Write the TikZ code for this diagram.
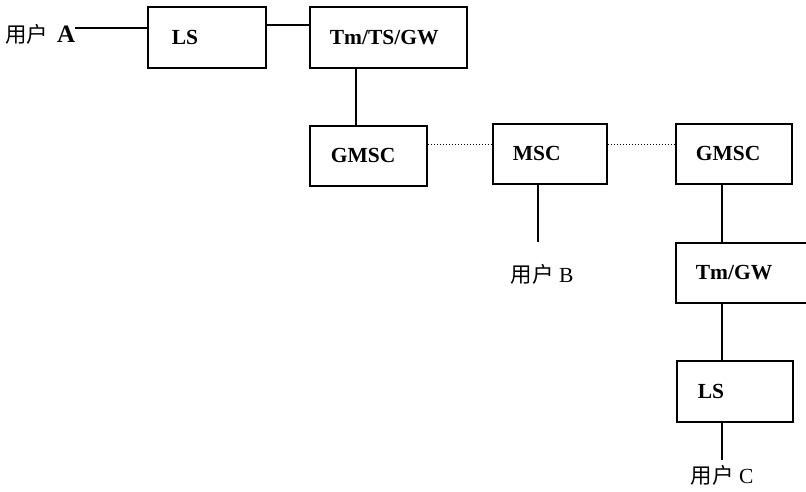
\documentclass[tikz,border=0pt]{standalone}
\usepackage{fontspec}
\setmainfont{Liberation Serif}
\newfontfamily\cjk{Noto Sans CJK SC}
\begin{document}
\begin{tikzpicture}[x=1pt,y=-1pt,
  box/.style={draw, line width=1.8pt, anchor=north west, inner sep=0pt,
    align=left, font=\bfseries\fontsize{21.5}{24}\selectfont},
  lbl/.style={inner sep=0pt, font=\fontsize{21.5}{24}\selectfont},
  conn/.style={line width=1.8pt},
  dotc/.style={line width=1pt, dotted}]
\useasboundingbox (0,0) rectangle (806,491);
\clip (0,0) rectangle (806,491);
% boxes
\node[box, minimum width=118, minimum height=61, text width=74] (ls1) at (147,6) {\hspace*{2pt}LS};
\node[box, minimum width=157, minimum height=61, text width=117] (tm1) at (309,6) {Tm/TS/GW};
\node[box, minimum width=117, minimum height=60, text width=75] (g1) at (309,125) {GMSC};
\node[box, minimum width=114, minimum height=60, text width=74] (msc) at (492,123) {MSC};
\node[box, minimum width=116, minimum height=60, text width=76] (g2) at (675,123) {GMSC};
\node[box, minimum width=140, minimum height=60, text width=100] (tm2) at (675,242) {Tm/GW};
\node[box, minimum width=116, minimum height=61, text width=74] (ls2) at (676,360) {LS};
% labels
\node[lbl, anchor=west] (ua) at (5,34) {{\cjk 用户}\hspace{9pt}{\bfseries\fontsize{25}{26}\selectfont A}};
\node[lbl] (ub) at (542,274) {{\cjk 用户} B};
\node[lbl] (uc) at (722,475) {{\cjk 用户} C};
% helper coordinates
\coordinate (ya) at (0,28);
\coordinate (yb) at (0,25);
\coordinate (xa) at (356,0);
\coordinate (yd) at (0,144);
\coordinate (xb) at (538,0);
\coordinate (xc) at (722,0);
\coordinate (bB) at (538,242);
\coordinate (bC) at (722,460);
% connectors
\draw[conn] (ua.east |- ya) -- (ls1.west |- ya);
\draw[conn] (ls1.east |- yb) -- (tm1.west |- yb);
\draw[conn] (tm1.south -| xa) -- (g1.north -| xa);
\draw[dotc] (g1.east |- yd) -- (msc.west |- yd);
\draw[dotc] (msc.east |- yd) -- (g2.west |- yd);
\draw[conn] (msc.south -| xb) -- (bB);
\draw[conn] (g2.south -| xc) -- (tm2.north -| xc);
\draw[conn] (tm2.south -| xc) -- (ls2.north -| xc);
\draw[conn] (ls2.south -| xc) -- (bC);
\end{tikzpicture}
\end{document}
